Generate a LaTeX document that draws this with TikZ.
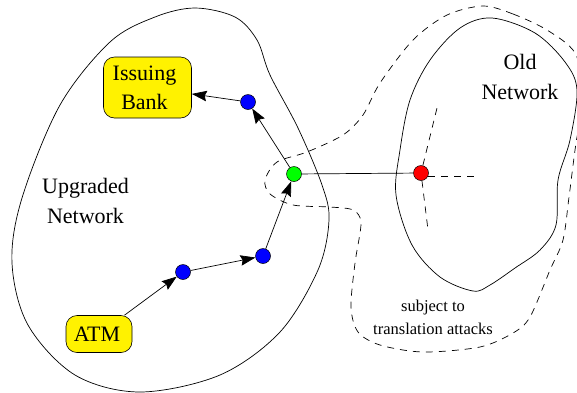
\documentclass[tikz,border=0pt]{standalone}
\usepackage{fontspec}
\setmainfont{Liberation Serif}
\usetikzlibrary{arrows.meta}
\tikzset{
  x=1pt,y=-1pt,
  outline/.style={draw=black,line width=0.7pt},
  zone/.style={draw=black,line width=0.7pt,dash pattern=on 7pt off 6pt},
  branch/.style={draw=black,line width=0.7pt,dash pattern=on 7pt off 6pt},
  dot/.style={circle,draw=black,line width=0.5pt,minimum size=15pt,inner sep=0pt},
  box/.style={draw=black,line width=0.6pt,fill=yellow,rounded corners=11pt,inner sep=0pt,align=center,font=\fontsize{22}{29}\selectfont},
  big/.style={align=center,inner sep=0pt,font=\fontsize{22}{30}\selectfont},
  small/.style={align=center,inner sep=0pt,font=\fontsize{16.5}{23}\selectfont},
  link/.style={draw=black,line width=0.7pt,-{Stealth[length=15pt,width=10.5pt,inset=2pt]},shorten >=0pt}
}
\begin{document}
\begin{tikzpicture}
\clip (0,0) rectangle (577,392);
\fill[white] (0,0) rectangle (577,392);
% Upgraded network outline
\draw[outline] plot[smooth cycle,tension=0.55] coordinates {
 (195,8) (235,17) (257,40) (270,75) (298,128) (322,185) (329,220) (318,270) (280,332) (220,375) (140,392)
 (75,375) (28,325) (12,263) (22,198) (60,105) (110,42) (155,17)};
% Old network outline
\draw[outline] plot[smooth cycle,tension=0.55] coordinates {
 (492,18) (535,33) (565,62) (577,90) (570,140) (558,180) (556,225) (540,250) (515,268) (490,285) (473,291)
 (440,277) (412,245) (396,195) (400,150) (410,100) (430,60) (460,28)};
% Zone subject to translation attacks
\draw[zone] plot[smooth cycle,tension=0.5] coordinates {
 (483,6) (513,14) (547,30) (575,53) (584,95) (576,143) (569,197) (563,240) (550,270) (530,317) (513,333)
 (480,347) (423,352) (380,345) (358,332) (351,307) (355,263) (361,223) (353,210) (330,207) (293,205)
 (270,194) (265,180) (277,162) (307,152) (343,135) (363,115) (380,83) (413,40) (447,15)};
\node[box,minimum width=88pt,minimum height=61pt] (bank) at (147.5,87.5) {Issuing\hspace*{6pt}\\Bank\hspace*{6pt}};
\node[box,minimum width=66pt,minimum height=37pt] (atm) at (99,334) {ATM\hspace*{4pt}};
\node[dot,fill=blue] (b1) at (248,102) {};
\node[dot,fill=blue] (b2) at (183,272) {};
\node[dot,fill=blue] (b3) at (263,256) {};
\node[dot,fill=green] (g) at (294,174) {};
\node[dot,fill=red] (r) at (421,173) {};
\coordinate (e1) at (437,108);
\coordinate (e2) at (477,176);
\coordinate (e3) at (428,230);
\coordinate (e0) at (428,176);
\draw[branch] (r) -- (e1);
\draw[branch] (e0) -- (e2);
\draw[branch] (r) -- (e3);
\draw[outline] (g) -- (r);
\draw[link] (atm) -- (b2);
\draw[link] (b2) -- (b3);
\draw[link] (b3) -- (g);
\draw[link] (g) -- (b1);
\draw[link] (b1) -- (bank);
\node[big] (up) at (85.5,201) {Upgraded\\Network};
\node[big] (old) at (520,77) {Old\\Network};
\node[small] (sub) at (433,317) {subject to\\translation attacks};
\end{tikzpicture}
\end{document}
